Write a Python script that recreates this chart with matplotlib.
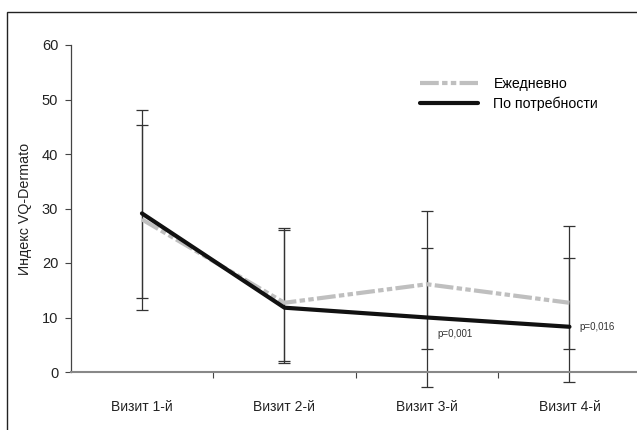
import matplotlib
matplotlib.use("Agg")
import matplotlib.pyplot as plt
import numpy as np
from matplotlib.patches import Rectangle

visits = ["Визит 1-й", "Визит 2-й", "Визит 3-й", "Визит 4-й"]

daily = [28.0, 12.7, 16.1, 12.7]
daily_low = [13.6, 2.1, 4.3, 4.2]
daily_high = [45.4, 26.1, 29.5, 26.8]

on_demand = [29.1, 11.8, 10.0, 8.3]
on_demand_low = [11.4, 1.7, -2.7, -1.9]
on_demand_high = [48.1, 26.4, 22.7, 21.0]

p_labels = ["", "", "p=0,001", "p=0,016"]
p_offsets = [(0, 0), (0, 0), (0.07, -3.0), (0.07, 0.0)]

plt.rcParams["font.family"] = ["Liberation Sans", "DejaVu Sans"]

fig = plt.figure(figsize=(6.37, 4.30), dpi=100)
ax = fig.add_axes([70.7 / 637, 58 / 430, 570 / 637, 327 / 430])

# frame round the whole picture
fig.patches.append(
    Rectangle((7 / 637, -0.1), 1.2, (418 / 430) + 0.1, transform=fig.transFigure,
              fill=False, edgecolor="#222222", linewidth=1.0)
)

x = np.arange(len(visits))
err_style = dict(fmt="none", ecolor="#333333", elinewidth=0.9, capsize=4.5,
                 capthick=0.9, clip_on=False, zorder=2)

for vals, low, high in [(daily, daily_low, daily_high),
                        (on_demand, on_demand_low, on_demand_high)]:
    vals = np.array(vals)
    yerr = np.vstack([vals - np.array(low), np.array(high) - vals])
    eb = ax.errorbar(x, vals, yerr=yerr, **err_style)
    for part in eb.lines[1] + eb.lines[2]:
        part.set_clip_on(False)

ax.plot(x, daily, color="#bfbfbf", linewidth=3.0, dash_capstyle="butt",
        dashes=[4.5, 0.8, 1.3, 0.8, 1.3, 0.8],
        label="Ежедневно", zorder=3)
ax.plot(x, on_demand, color="#111111", linewidth=3.0, solid_capstyle="round",
        label="По потребности", zorder=4)

for xi, yi, lab, (dx, dy) in zip(x, on_demand, p_labels, p_offsets):
    if lab:
        ax.text(xi + dx, yi + dy, lab, fontsize=7, color="#333333",
                ha="left", va="center")

ax.set_xlim(-0.5, 3.5)
ax.set_ylim(0, 60)
ax.set_yticks(np.arange(0, 61, 10))
ax.set_xticks([0.5, 1.5, 2.5])
ax.set_xticklabels([])
ax.set_xticks(x, minor=True)
ax.set_xticklabels(visits, minor=True)
ax.tick_params(axis="x", which="major", direction="out", length=4, color="#444444")
ax.tick_params(axis="x", which="minor", length=0, pad=20, labelsize=10, labelcolor="#222222")
ax.tick_params(axis="y", direction="out", length=4, color="#444444",
               labelsize=10.5, labelcolor="#222222", pad=5)

for side in ["top", "right"]:
    ax.spines[side].set_visible(False)
ax.spines["bottom"].set_color("#888888")
ax.spines["bottom"].set_linewidth(1.5)
ax.spines["left"].set_color("#444444")
ax.spines["left"].set_linewidth(0.9)

ax.set_ylabel("Индекс VQ-Dermato", fontsize=10.3, color="#222222", labelpad=7)

ax.legend(loc="upper left", bbox_to_anchor=(0.59, 0.94), frameon=False,
          fontsize=10.2, handlelength=4.1, handletextpad=1.1, labelspacing=0.35)

fig.savefig("out.png", dpi=100)
